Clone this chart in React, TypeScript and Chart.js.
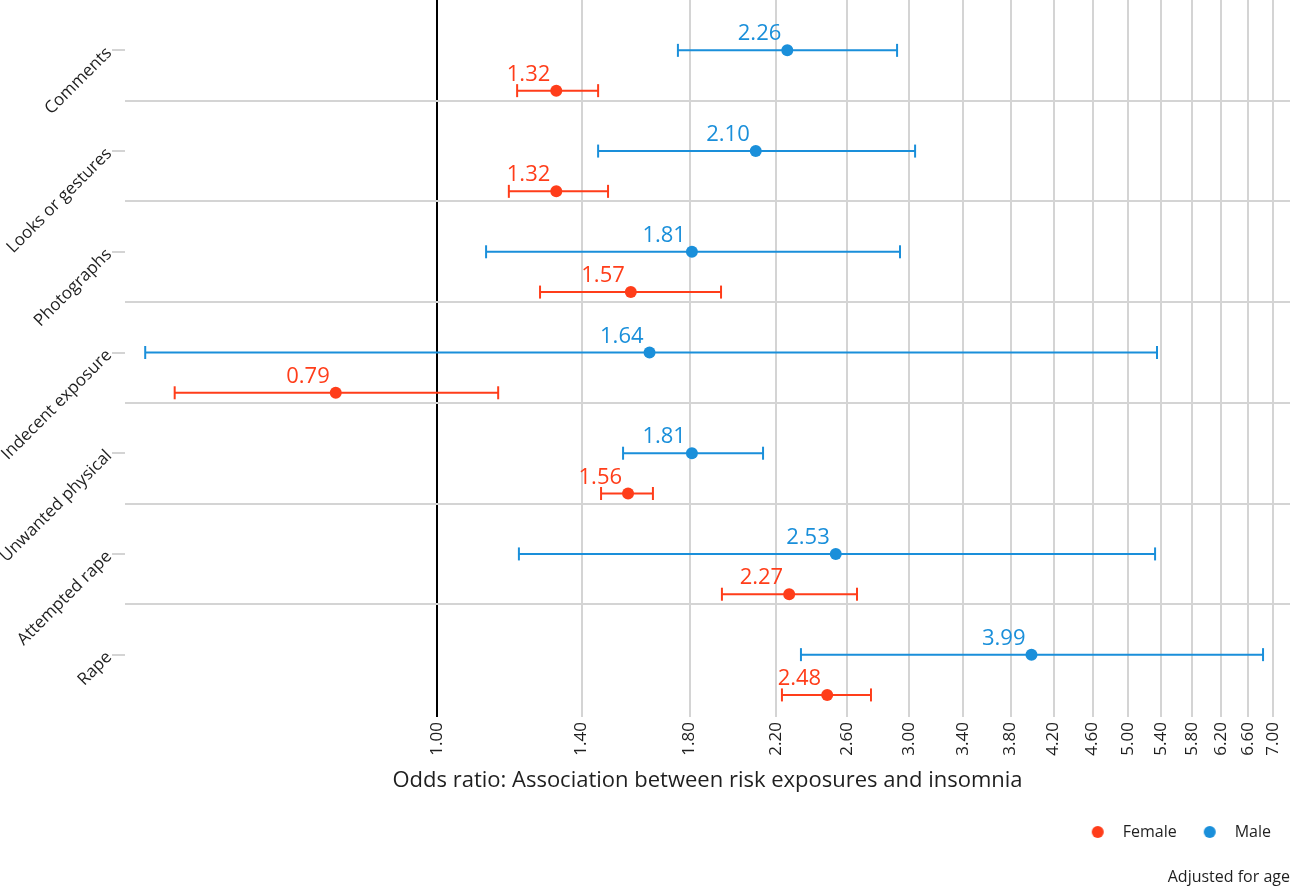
import React, { useEffect, useRef } from 'react';
import { Chart, registerables } from 'chart.js';

Chart.register(...registerables);

const FONT = '"Open Sans", "DejaVu Sans", sans-serif';
const RED = '#FF3D1A';
const BLUE = '#1A8FDA';
const GRID = '#d4d4d4';
const TEXT = '#1f1f1f';

const categories = [
  'Comments',
  'Looks or gestures',
  'Photographs',
  'Indecent exposure',
  'Unwanted physical',
  'Attempted rape',
  'Rape',
];

const maleOR = [2.26, 2.1, 1.81, 1.64, 1.81, 2.53, 3.99];
const maleLow = [1.752, 1.455, 1.121, 0.507, 1.542, 1.21, 2.333];
const maleHigh = [2.918, 3.043, 2.938, 5.344, 2.136, 5.32, 6.84];

const femaleOR = [1.32, 1.32, 1.57, 0.79, 1.56, 2.27, 2.48];
const femaleLow = [1.205, 1.182, 1.271, 0.543, 1.465, 1.941, 2.232];
const femaleHigh = [1.455, 1.489, 1.937, 1.153, 1.653, 2.658, 2.746];

const xTickValues = [1.0, 1.4, 1.8, 2.2, 2.6, 3.0, 3.4, 3.8, 4.2, 4.6, 5.0, 5.4, 5.8, 6.2, 6.6, 7.0];
const separatorValues = [0.5, 1.5, 2.5, 3.5, 4.5, 5.5];

const X_MIN = 0.4837;
const X_MAX = 7.283;
const FEMALE_OFFSET = 0.4;

function ciData(low: number[], high: number[], offset: number) {
  const out: any[] = [];
  low.forEach((lo, i) => {
    out.push({ x: lo, y: i + offset });
    out.push({ x: high[i], y: i + offset });
    out.push({ x: NaN, y: NaN });
  });
  return out;
}

function pointData(vals: number[], offset: number) {
  return vals.map((v, i) => ({ x: v, y: i + offset }));
}

// legend marker: a circle placed inside a wider transparent box
const LEGEND_BOX_W = 31;
const LEGEND_CIRCLE_X = 14;
function legendMarker(color: string) {
  const c = document.createElement('canvas');
  c.width = LEGEND_BOX_W;
  c.height = 14;
  const g = c.getContext('2d')!;
  g.fillStyle = color;
  g.beginPath();
  g.arc(LEGEND_CIRCLE_X, 7, 6, 0, Math.PI * 2);
  g.fill();
  return c;
}

const valueLabelPlugin = {
  id: 'valueLabels',
  afterDatasetsDraw(chart: any) {
    const ctx = chart.ctx;
    chart.data.datasets.forEach((ds: any, i: number) => {
      if (ds.type !== 'scatter') return;
      const meta = chart.getDatasetMeta(i);
      ctx.save();
      ctx.font = `22px ${FONT}`;
      ctx.fillStyle = ds.backgroundColor;
      ctx.textAlign = 'right';
      ctx.textBaseline = 'alphabetic';
      meta.data.forEach((el: any, j: number) => {
        ctx.fillText(ds.data[j].x.toFixed(2), el.x - 6, el.y - 10);
      });
      ctx.restore();
    });
  },
};

export default function App() {
  const canvasRef = useRef<HTMLCanvasElement | null>(null);

  useEffect(() => {
    if (!canvasRef.current) return;
    const markers: Record<string, HTMLCanvasElement> = {
      Female: legendMarker(RED),
      Male: legendMarker(BLUE),
    };
    const chart = new Chart(canvasRef.current, {
      type: 'scatter',
      data: {
        datasets: [
          {
            type: 'scatter',
            label: 'Female',
            data: pointData(femaleOR, FEMALE_OFFSET),
            backgroundColor: RED,
            borderColor: RED,
            pointRadius: 6,
            pointBorderWidth: 0,
            pointStyle: 'circle',
            xAxisID: 'x',
            yAxisID: 'y',
          },
          {
            type: 'scatter',
            label: 'Male',
            data: pointData(maleOR, 0),
            backgroundColor: BLUE,
            borderColor: BLUE,
            pointRadius: 6,
            pointBorderWidth: 0,
            pointStyle: 'circle',
            xAxisID: 'x',
            yAxisID: 'y',
          },
          {
            type: 'line',
            label: 'Female CI',
            data: ciData(femaleLow, femaleHigh, FEMALE_OFFSET),
            borderColor: RED,
            backgroundColor: RED,
            borderWidth: 2,
            spanGaps: false,
            pointStyle: 'line',
            rotation: 90,
            pointRadius: 6.5,
            pointBorderWidth: 2,
            pointBorderColor: RED,
            xAxisID: 'x',
            yAxisID: 'y',
          } as any,
          {
            type: 'line',
            label: 'Male CI',
            data: ciData(maleLow, maleHigh, 0),
            borderColor: BLUE,
            backgroundColor: BLUE,
            borderWidth: 2,
            spanGaps: false,
            pointStyle: 'line',
            rotation: 90,
            pointRadius: 6.5,
            pointBorderWidth: 2,
            pointBorderColor: BLUE,
            xAxisID: 'x',
            yAxisID: 'y',
          } as any,
        ],
      },
      options: {
        responsive: false,
        animation: false,
        events: [],
        layout: { padding: 0, autoPadding: false },
        scales: {
          x: {
            type: 'logarithmic',
            position: 'bottom',
            min: X_MIN,
            max: X_MAX,
            afterBuildTicks: (axis: any) => {
              axis.ticks = xTickValues.map((v) => ({ value: v }));
            },
            afterFit: (axis: any) => {
              axis.height = 100;
              axis.paddingLeft = 0;
              axis.paddingRight = 0;
            },
            ticks: {
              autoSkip: false,
              minRotation: 90,
              maxRotation: 90,
              padding: 5,
              color: TEXT,
              font: { family: FONT, size: 17 },
              callback: (v: any) => Number(v).toFixed(2),
            },
            grid: {
              drawOnChartArea: true,
              drawTicks: true,
              tickLength: 12,
              lineWidth: 2,
              color: (ctx: any) => (ctx.tick && Math.abs(ctx.tick.value - 1) < 1e-9 ? '#000000' : GRID),
            },
            border: { display: false },
            title: {
              display: true,
              text: 'Odds ratio: Association between risk exposures and insomnia',
              color: TEXT,
              font: { family: FONT, size: 22 },
              padding: { top: 4, bottom: 11 },
            },
          },
          y: {
            type: 'linear',
            position: 'left',
            min: -0.5,
            max: 6.5,
            reverse: true,
            afterBuildTicks: (axis: any) => {
              axis.ticks = categories.map((_, i) => ({ value: i }));
            },
            afterFit: (axis: any) => {
              axis.width = 125;
              axis.paddingTop = 0;
              axis.paddingBottom = 0;
            },
            ticks: {
              autoSkip: false,
              minRotation: 45,
              maxRotation: 45,
              padding: 3,
              color: TEXT,
              font: { family: FONT, size: 17 },
              callback: (v: any) => categories[Math.round(Number(v))] ?? '',
            },
            grid: {
              drawOnChartArea: false,
              drawTicks: true,
              tickLength: 13,
              lineWidth: 2,
              color: GRID,
            },
            border: { display: false },
          },
          ySep: {
            type: 'linear',
            position: 'left',
            min: -0.5,
            max: 6.5,
            reverse: true,
            afterBuildTicks: (axis: any) => {
              axis.ticks = separatorValues.map((v) => ({ value: v }));
            },
            afterFit: (axis: any) => {
              axis.width = 0;
              axis.paddingTop = 0;
              axis.paddingBottom = 0;
            },
            ticks: { display: false },
            grid: {
              drawOnChartArea: true,
              drawTicks: false,
              lineWidth: 2,
              color: GRID,
            },
            border: { display: false },
          },
        },
        plugins: {
          tooltip: { enabled: false },
          legend: {
            display: true,
            position: 'bottom',
            align: 'end',
            labels: {
              usePointStyle: true,
              pointStyleWidth: LEGEND_BOX_W,
              boxHeight: 14,
              padding: 19,
              color: TEXT,
              font: { family: FONT, size: 16 },
              generateLabels: (ch: any) => {
                const items = (Chart as any).defaults.plugins.legend.labels.generateLabels(ch);
                return items
                  .filter((it: any) => it.text === 'Female' || it.text === 'Male')
                  .map((it: any) => ({ ...it, pointStyle: markers[it.text], lineWidth: 0 }));
              },
            },
          },
          title: {
            display: true,
            text: 'Adjusted for age',
            position: 'bottom',
            align: 'end',
            color: TEXT,
            font: { family: FONT, size: 16, weight: 'normal' },
            padding: { top: 17.4, bottom: 1.4 },
          },
        },
      },
      plugins: [valueLabelPlugin],
    } as any);
    return () => chart.destroy();
  }, []);

  return (
    <div style={{ position: 'absolute', left: 0, top: 0, width: 1290, height: 888 }}>
      <canvas ref={canvasRef} width={1290} height={888} style={{ display: 'block' }} />
    </div>
  );
}
